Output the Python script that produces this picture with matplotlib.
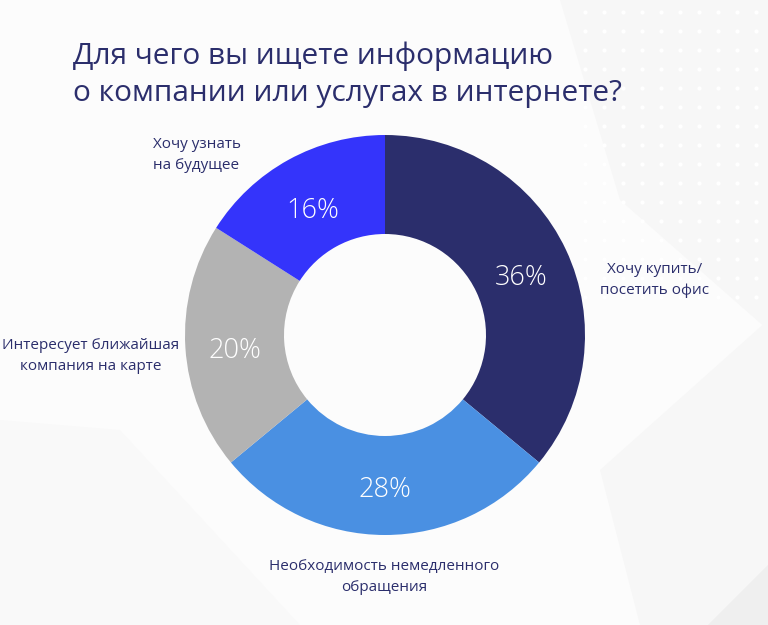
import matplotlib
matplotlib.use('Agg')
import matplotlib.pyplot as plt
import numpy as np
from matplotlib.patches import Polygon

# --- Datos ---
categorias = ['Хочу купить/\nпосетить офис',
              'Необходимость немедленного\nобращения',
              'Интересует ближайшая\nкомпания на карте',
              'Хочу узнать\nна будущее']
valores = [36, 28, 20, 16]
colores = ['#2b2e6c', '#4a90e2', '#b3b3b3', '#3434fb']
titulo = 'Для чего вы ищете информацию\nо компании или услугах в интернете?'

TEXTO = '#2b2e6c'
W, H = 768, 625
plt.rcParams['font.family'] = ['Open Sans', 'DejaVu Sans']

fig = plt.figure(figsize=(W / 100, H / 100), dpi=100)
fig.patch.set_facecolor('#fcfcfc')

# fondo: formas geometricas muy tenues
fondo = fig.add_axes([0, 0, 1, 1])
fondo.set_xlim(0, W)
fondo.set_ylim(H, 0)
fondo.axis('off')
for pts, c in [([(560, 0), (768, 0), (768, 330), (620, 200)], '#f7f7f7'),
               ([(600, 470), (768, 320), (768, 625), (640, 625)], '#f7f7f7'),
               ([(745, 588), (768, 565), (768, 625), (708, 625)], '#efefef'),
               ([(0, 420), (120, 430), (300, 625), (0, 625)], '#f9f9f9')]:
    fondo.add_patch(Polygon(pts, closed=True, facecolor=c, edgecolor='none'))
# puntos blancos en la esquina superior derecha
xs, ys = np.meshgrid(np.arange(585, 768, 19), np.arange(12, 300, 19))
fondo.scatter(xs.ravel(), ys.ravel(), s=9, color='white', linewidths=0)

# donut
cx, cy, R = 385, 335, 200
ax = fig.add_axes([(cx - R) / W, (H - cy - R) / H, 2 * R / W, 2 * R / H])
wedges, _ = ax.pie(valores, colors=colores, startangle=90, counterclock=False,
                   radius=1, wedgeprops=dict(width=0.495, linewidth=0))
ax.set_xlim(-1, 1)
ax.set_ylim(-1, 1)
ax.axis('off')

ang = 90.0
for v in valores:
    medio = np.deg2rad(ang - v * 3.6 / 2)
    ang -= v * 3.6
    ax.text(0.75 * np.cos(medio), 0.745 * np.sin(medio) - 0.032, f'{v}%',
            color='white', fontsize=19.5, ha='center', va='center',
            fontweight='light')

# etiquetas exteriores (px)
pos = [(655, 280, 'center'), (384, 577, 'center'), (91, 356, 'center'), (153, 155, 'left')]
for (x, y, ha), txt in zip(pos, categorias):
    fig.text(x / W, 1 - y / H, txt, color=TEXTO, fontsize=11, ha=ha, va='center',
             linespacing=1.55)

fig.text(73 / W, 1 - 75 / H, titulo, color=TEXTO, fontsize=21.5, ha='left',
         va='center', linespacing=1.38)

plt.savefig('out.png', dpi=100, facecolor=fig.get_facecolor())
